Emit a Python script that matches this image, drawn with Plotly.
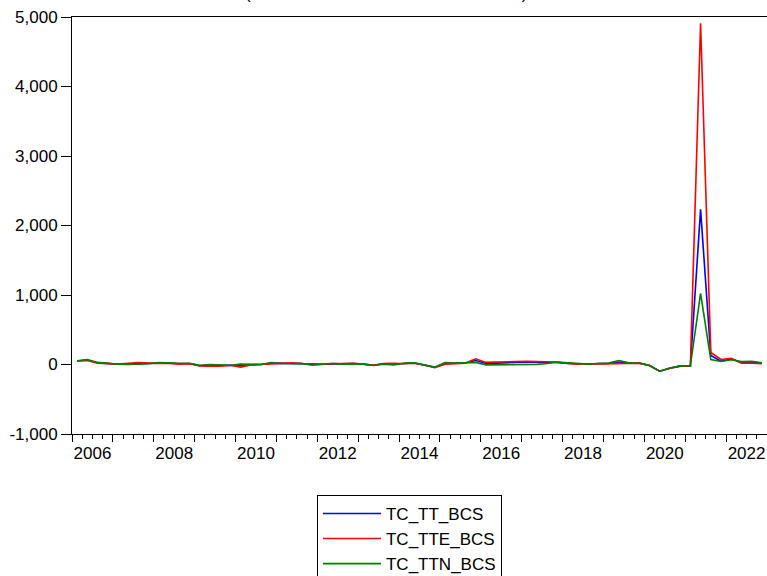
import plotly.graph_objects as go

# Quarterly observations 2006Q1 .. 2022Q4
years = list(range(2006, 2023))
quarters = [f"{y}Q{q}" for y in years for q in range(1, 5)]

tc_tte_bcs = [50, 58, 20, 10, 5, 19, 29, 20,
              14, 19, 5, 10, -20, -24, -24, -10,
              -38, -5, 0, 10, 19, 24, 14, 5,
              5, 10, 10, 19, 5, -10, 14, 19,
              10, 20, -10, -45, 5, 10, 20, 82,
              30, 35, 43, 43, 45, 45, 40, 30,
              15, 5, 5, 10, 5, 10, 15, 20,
              -14, -96, -53, -24, -24, 4910, 173, 72,
              90, 20, 20, 10]
tc_tt_bcs = [50, 65, 25, 12, 5, 8, 15, 15,
             20, 19, 10, 14, -19, -12, -15, -10,
             -15, -3, 0, 20, 17, 20, 12, 0,
             5, 10, 8, 12, 5, -10, 10, 10,
             15, 22, -10, -40, 15, 15, 22, 58,
             15, 20, 29, 29, 30, 30, 30, 30,
             15, 8, 5, 12, 15, 35, 20, 20,
             -14, -96, -53, -24, -24, 2232, 130, 48,
             80, 30, 35, 18]
tc_ttn_bcs = [55, 72, 30, 12, 3, 0, 0, 10,
              29, 19, 19, 19, -10, 0, -5, -10,
              5, 0, 0, 29, 14, 10, 14, -10,
              5, 19, 5, 8, 5, -15, 5, -5,
              20, 25, -10, -38, 29, 20, 25, 29,
              -5, -5, 0, 0, 5, 0, 15, 35,
              25, 10, 5, 15, 20, 58, 25, 20,
              -14, -96, -50, -20, -22, 1022, 72, 43,
              68, 43, 46, 24]

series = [("TC_TT_BCS", tc_tt_bcs, "#0000ff"),
          ("TC_TTE_BCS", tc_tte_bcs, "#ff0000"),
          ("TC_TTN_BCS", tc_ttn_bcs, "#008000")]

y_ticks = [-1000, 0, 1000, 2000, 3000, 4000, 5000]
y_tick_text = ["-1,000", "0", "1,000", "2,000", "3,000", "4,000", "5,000"]
label_years = list(range(2006, 2023, 2))
title_text = "(Tasa de crecimiento anual del IMSS)"

# observation plotted at the centre of its quarter
xpos = [int(q[:4]) + (int(q[-1]) - 1) / 4 + 0.125 for q in quarters]

FONT = "Arial, 'Liberation Sans', sans-serif"

fig = go.Figure()
for name, vals, col in series:
    fig.add_trace(go.Scatter(x=xpos, y=vals, mode="lines", name=name,
                             line=dict(color=col, width=1.6)))
# empty helper trace so the year-tick axis is drawn
fig.add_trace(go.Scatter(x=[None], y=[None], xaxis="x2", showlegend=False,
                         hoverinfo="skip"))

fig.update_layout(
    width=767, height=576,
    margin=dict(l=72, r=0, t=17, b=142, autoexpand=False),
    paper_bgcolor="white", plot_bgcolor="white",
    font=dict(family=FONT, size=17, color="black"),
    showlegend=True,
    legend=dict(x=0.3525, y=-0.146, xanchor="left", yanchor="top",
                bordercolor="black", borderwidth=1, bgcolor="white",
                font=dict(size=17), tracegroupgap=0, itemwidth=58),
    xaxis=dict(range=[2006, 2023], showgrid=False, zeroline=False,
               showline=True, linecolor="black", linewidth=1, mirror=True,
               tickvals=[y + 0.5 for y in label_years],
               ticktext=[str(y) for y in label_years],
               ticks="", tickfont=dict(size=17), ticklabelstandoff=4,
               automargin=False,
               minor=dict(tickvals=[2006 + k / 4 for k in range(69)],
                          ticks="outside", ticklen=4, tickcolor="black")),
    xaxis2=dict(range=[2006, 2023], overlaying="x", anchor="y", side="bottom",
                showgrid=False, zeroline=False, showline=False,
                tickvals=list(range(2006, 2024)), ticks="outside", ticklen=7,
                tickcolor="black", showticklabels=False, automargin=False),
    yaxis=dict(range=[-1000, 5000], tickvals=y_ticks, ticktext=y_tick_text,
               showgrid=False, zeroline=False, showline=True,
               linecolor="black", linewidth=1, mirror=True,
               ticks="outside", ticklen=10, tickcolor="black",
               tickfont=dict(size=17), automargin=False),
    annotations=[dict(text=title_text,
                      xref="paper", yref="paper", x=0.453, y=1.0 + 12 / 417,
                      xanchor="center", yanchor="bottom", showarrow=False,
                      font=dict(size=17))],
)

fig.write_html("out.html", config={"displayModeBar": False},
               post_script="document.body.style.margin='0';")
